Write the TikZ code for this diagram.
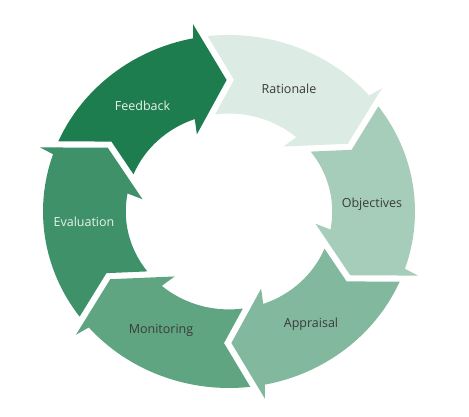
\documentclass[tikz,border=0pt]{standalone}
\usepackage{fontspec}
\setmainfont{Open Sans}
\definecolor{cF}{RGB}{30,125,78}
\definecolor{cE}{RGB}{62,145,104}
\definecolor{cM}{RGB}{96,165,130}
\definecolor{cA}{RGB}{130,185,158}
\definecolor{cO}{RGB}{166,205,186}
\definecolor{cR}{RGB}{220,235,228}
\definecolor{txtdark}{RGB}{58,58,58}
\definecolor{txtlight}{RGB}{232,242,236}
\tikzset{
  lbl/.style={font=\fontsize{12.5}{14}\selectfont, inner sep=0pt},
  lbldark/.style={lbl, text=txtdark},
  lbllight/.style={lbl, text=txtlight}
}
\begin{document}
\begin{tikzpicture}[x=1pt,y=1pt]
\useasboundingbox (0,0) rectangle (469,417);
\begin{scope}[shift={(229,205.5)}, xscale=186, yscale=176.5]
\foreach \a/\c in {91/cF, 31/cR, -29/cO, -89/cA, -149/cM, 151/cE} {
  \begin{scope}[rotate=\a-90]
    \fill[\c] (155.57:1) arc[start angle=155.57, end angle=100.08, radius=1]
      -- (-0.175,1.065) -- (0,0.745) -- (-0.165,0.44)
      -- (108.38:0.555) arc[start angle=108.38, end angle=156.7, radius=0.555]
      -- (146.93:0.746) -- cycle;
  \end{scope}
}
\end{scope}
\node[lbllight] (fb) at (142.5,311) {Feedback};
\node[lbldark] (ra) at (289,328) {Rationale};
\node[lbldark] (ob) at (372,213) {Objectives};
\node[lbldark] (ap) at (311,93) {Appraisal};
\node[lbldark] (mo) at (161,87) {Monitoring};
\node[lbllight] (ev) at (84,195) {Evaluation};
\end{tikzpicture}
\end{document}
